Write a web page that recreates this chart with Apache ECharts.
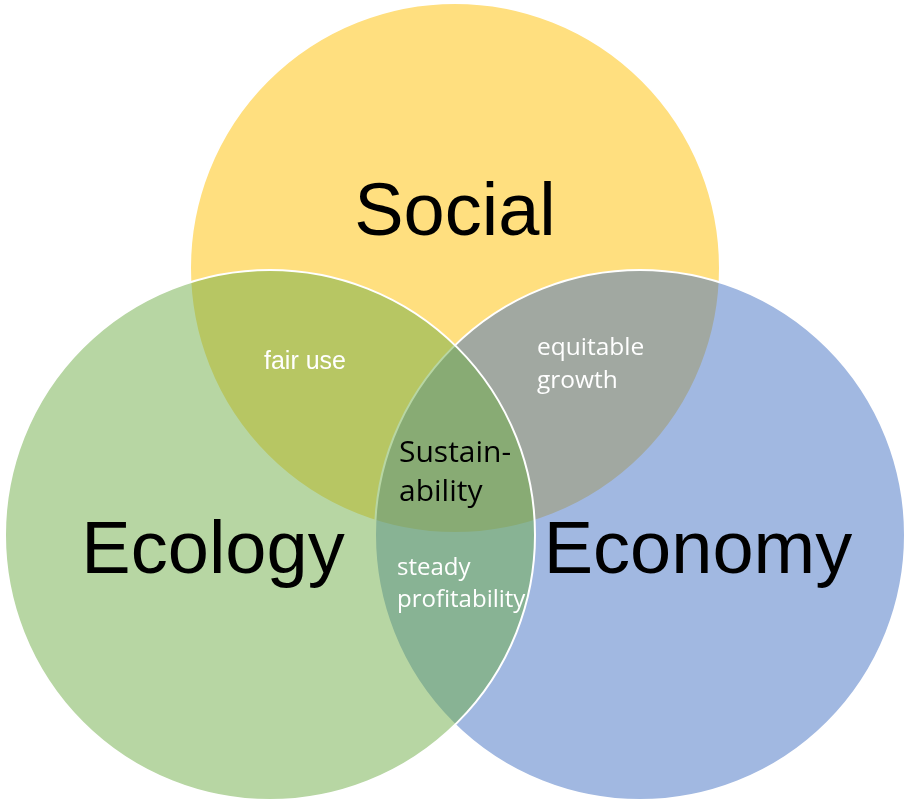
<!DOCTYPE html>
<html><head><meta charset="utf-8">
<script src="https://cdn.jsdelivr.net/npm/echarts@6/dist/echarts.min.js"></script>
<style>html,body{margin:0;padding:0;background:#fff}#c{width:906px;height:807px}</style>
</head><body><div id="c"></div>
<script>
// Sets (drawn in this order: Social at bottom, Ecology on top)
const setNames = ['Social', 'Economy', 'Ecology'];
const setCenterX = [455, 640, 270];
const setCenterY = [268, 535, 535];
const setRadius = [265, 265, 265];
const setColors = ['#FFC000', '#4472C4', '#70AD47'];
// Set name label anchors
const setLabelX = [455, 698, 213];
const setLabelY = [215, 553, 553];
// Overlap labels
const overlapLabels = ['fair use', 'equitable\ngrowth', 'Sustain-\nability', 'steady\nprofitability'];
const overlapX = [305, 537, 399, 397];
const overlapY = [362, 365, 473, 584];
const overlapAlign = ['center', 'left', 'left', 'left'];
const overlapColor = ['#ffffff', '#ffffff', '#000000', '#ffffff'];
const overlapFont = ['25px "Liberation Sans", Arial, sans-serif', '24.5px "Open Sans", sans-serif', '30px "Open Sans", sans-serif', '24px "Open Sans", sans-serif'];
const overlapLineHeight = [30, 33, 39, 32];

const circleData = setNames.map((n, i) => [setCenterX[i], setCenterY[i], setRadius[i], i]);
const setLabelData = setNames.map((n, i) => [setLabelX[i], setLabelY[i], i]);
const overlapData = overlapLabels.map((t, i) => [overlapX[i], overlapY[i], i]);

const chart = echarts.init(document.getElementById('c'), null, {renderer: 'canvas'});
chart.setOption({
  animation: false,
  backgroundColor: '#ffffff',
  grid: {left: 0, right: 0, top: 0, bottom: 0},
  xAxis: {type: 'value', min: 0, max: 906, show: false},
  yAxis: {type: 'value', min: 0, max: 807, inverse: true, show: false},
  series: [
    {
      type: 'custom', clip: false, data: circleData, encode: {x: 0, y: 1},
      renderItem: function (params, api) {
        const c = api.coord([api.value(0), api.value(1)]);
        const r = api.size([api.value(2), api.value(2)])[0];
        const i = api.value(3);
        return {
          type: 'circle',
          shape: {cx: c[0], cy: c[1], r: r},
          style: {fill: echarts.color.modifyAlpha(setColors[i], 0.5), stroke: '#ffffff', lineWidth: 2}
        };
      }
    },
    {
      type: 'custom', clip: false, data: setLabelData, encode: {x: 0, y: 1}, z: 3,
      renderItem: function (params, api) {
        const c = api.coord([api.value(0), api.value(1)]);
        const i = api.value(2);
        return {
          type: 'text', x: c[0], y: c[1],
          style: {text: setNames[i], font: '74px "Liberation Sans", Arial, sans-serif', fill: '#000000', align: 'center', verticalAlign: 'middle'}
        };
      }
    },
    {
      type: 'custom', clip: false, data: overlapData, encode: {x: 0, y: 1}, z: 3,
      renderItem: function (params, api) {
        const c = api.coord([api.value(0), api.value(1)]);
        const i = api.value(2);
        return {
          type: 'text', x: c[0], y: c[1],
          style: {
            text: overlapLabels[i],
            font: overlapFont[i],
            fill: overlapColor[i], align: overlapAlign[i], verticalAlign: 'middle',
            lineHeight: overlapLineHeight[i]
          }
        };
      }
    }
  ]
});
</script></body></html>
